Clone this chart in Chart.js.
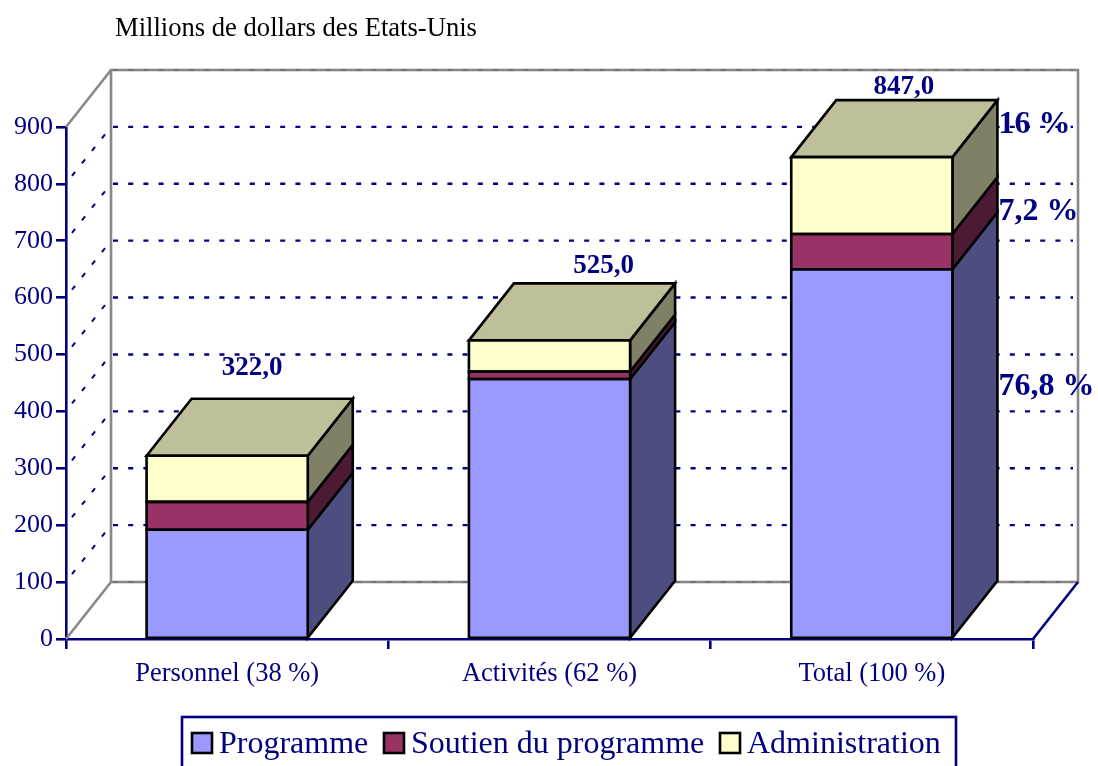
<!DOCTYPE html>
<html><head><meta charset="utf-8">
<style>html,body{margin:0;padding:0;background:#fff;overflow:hidden}canvas{display:block}</style>
<script src="https://cdn.jsdelivr.net/npm/chart.js@4"></script></head>
<body><canvas id="c" width="1098" height="766"></canvas>
<script>
const categories = ['Personnel (38 %)', 'Activités (62 %)', 'Total (100 %)'];
const seriesNames = ['Programme', 'Soutien du programme', 'Administration'];
const programme = [192, 457, 650];
const soutien = [49, 13, 62];
const administration = [81, 55, 135];
const totals = ['322,0', '525,0', '847,0'];
const shares = ['16 %', '7,2 %', '76,8 %'];
const shareValues = [890, 737, 429];
const yTicksMax = 900;

const NAVY = '#000080', GRAY = '#888888', SERIF = '"Liberation Serif", serif';
const DX = 45, DY = 57, LW = 2.6;
const fills = ['#9999FF', '#993366', '#FFFFCC'];
const sides = ['#4D4D80', '#4D1A33', '#808066'];
const topFill = '#BFBF99';
const totalOffsets = [[25, 375], [54, 273], [32, 94]];

function line(ctx, x1, y1, x2, y2) { ctx.beginPath(); ctx.moveTo(x1, y1); ctx.lineTo(x2, y2); ctx.stroke(); }
function quad(ctx, pts, fill) {
  ctx.beginPath(); pts.forEach((p, i) => i ? ctx.lineTo(p[0], p[1]) : ctx.moveTo(p[0], p[1])); ctx.closePath();
  if (fill) { ctx.fillStyle = fill; ctx.fill(); }
  ctx.stroke();
}

const walls = {
  id: 'walls',
  beforeDatasetsDraw(chart) {
    const { ctx, chartArea: a, scales: { y } } = chart;
    ctx.save();
    const yTop = y.getPixelForValue(yTicksMax), y0 = y.getPixelForValue(0);
    ctx.strokeStyle = GRAY; ctx.lineWidth = LW;
    ctx.strokeRect(a.left + DX, yTop - DY, a.right - a.left, y0 - yTop);
    line(ctx, a.left, yTop, a.left + DX, yTop - DY);
    line(ctx, a.left, y0, a.left + DX, y0 - DY);
    ctx.strokeStyle = NAVY;
    line(ctx, a.right, y0, a.right + DX, y0 - DY);
    y.ticks.forEach(t => {
      const py = y.getPixelForValue(t.value);
      if (t.value <= 0 || t.value >= yTicksMax) {
        ctx.save(); ctx.globalAlpha = 0.35; ctx.lineWidth = 1; ctx.setLineDash([5, 10.2]);
        line(ctx, a.left + DX + 2, py - DY, a.right + DX - 5, py - DY);
        ctx.restore();
        return;
      }
      ctx.lineWidth = 2.4; ctx.setLineDash([5, 10.2]);
      line(ctx, a.left + DX + 2, py - DY, a.right + DX - 5, py - DY);
      ctx.lineWidth = 2; ctx.setLineDash([5, 11]);
      line(ctx, a.left + 6, py - 8, a.left + DX, py - DY);
    });
    ctx.setLineDash([]);
    ctx.strokeStyle = '#000'; ctx.lineWidth = LW; ctx.lineJoin = 'miter';
    chart.data.datasets.forEach((ds, i) => {
      chart.getDatasetMeta(i).data.forEach(b => {
        const r = b.x + b.width / 2, l = b.x - b.width / 2;
        quad(ctx, [[r, b.y], [r + DX, b.y - DY], [r + DX, b.base - DY], [r, b.base]], sides[i]);
        if (i === chart.data.datasets.length - 1)
          quad(ctx, [[l, b.y], [l + DX, b.y - DY], [r + DX, b.y - DY], [r, b.y]], topFill);
      });
    });
    ctx.restore();
  },
  afterDatasetsDraw(chart) {
    const ctx = chart.ctx;
    ctx.save();
    ctx.strokeStyle = '#000'; ctx.lineWidth = LW;
    chart.data.datasets.forEach((ds, i) => {
      chart.getDatasetMeta(i).data.forEach(b => {
        const r = b.x + b.width / 2, l = b.x - b.width / 2;
        quad(ctx, [[l, b.y], [r, b.y], [r, b.base], [l, b.base]]);
      });
    });
    ctx.restore();
  },
  afterDraw(chart) {
    const { ctx, scales: { y } } = chart;
    ctx.save();
    ctx.fillStyle = NAVY; ctx.textBaseline = 'alphabetic';
    ctx.font = 'bold 27px ' + SERIF; ctx.textAlign = 'center';
    const topMeta = chart.getDatasetMeta(2).data;
    totals.forEach((t, i) => ctx.fillText(t, topMeta[i].x + totalOffsets[i][0], totalOffsets[i][1]));
    ctx.font = 'bold 32px ' + SERIF; ctx.textAlign = 'left';
    const right = topMeta[2].x + topMeta[2].width / 2 + DX + 1;
    shares.forEach((s, i) => ctx.fillText(s, right, y.getPixelForValue(shareValues[i])));
    ctx.fillStyle = '#000'; ctx.font = '26.6px ' + SERIF;
    ctx.fillText('Millions de dollars des Etats-Unis', 115, 36);

    // legend
    ctx.strokeStyle = NAVY; ctx.lineWidth = LW;
    ctx.strokeRect(182, 717, 774, 60);
    const swatchX = [191, 383, 719];
    ctx.font = '32px ' + SERIF;
    chart.data.datasets.forEach((ds, i) => {
      ctx.fillStyle = ds.backgroundColor; ctx.strokeStyle = '#000';
      ctx.fillRect(swatchX[i] + 1, 733, 20, 20); ctx.strokeRect(swatchX[i] + 1, 733, 20, 20);
      ctx.fillStyle = NAVY;
      ctx.fillText(ds.label, swatchX[i] + 28, 753);
    });
    ctx.restore();
  }
};

new Chart(document.getElementById('c'), {
  type: 'bar',
  data: {
    labels: categories,
    datasets: [programme, soutien, administration].map((d, i) => ({
      label: seriesNames[i], data: d, backgroundColor: fills[i],
      borderWidth: 0, barPercentage: 0.5, categoryPercentage: 1
    }))
  },
  options: {
    responsive: false, animation: false, events: [],
    layout: { padding: { top: 127, right: 65, left: 0, bottom: 0 } },
    plugins: { legend: { display: false }, tooltip: { enabled: false }, title: { display: false } },
    scales: {
      x: {
        stacked: true, z: 1,
        afterFit(s) { s.height = 127; },
        border: { color: NAVY, width: LW },
        grid: { drawOnChartArea: false, color: NAVY, lineWidth: LW, tickLength: 10 },
        ticks: { color: NAVY, font: { family: SERIF, size: 26.5 }, padding: 9, maxRotation: 0 }
      },
      y: {
        stacked: true, min: 0, max: yTicksMax,
        afterFit(s) { s.width = 66; },
        border: { color: NAVY, width: LW },
        grid: { drawOnChartArea: false, color: NAVY, lineWidth: LW, tickLength: 10 },
        ticks: { stepSize: 100, color: NAVY, font: { family: SERIF, size: 26 }, padding: 3 }
      }
    }
  },
  plugins: [walls]
});
</script></body></html>
